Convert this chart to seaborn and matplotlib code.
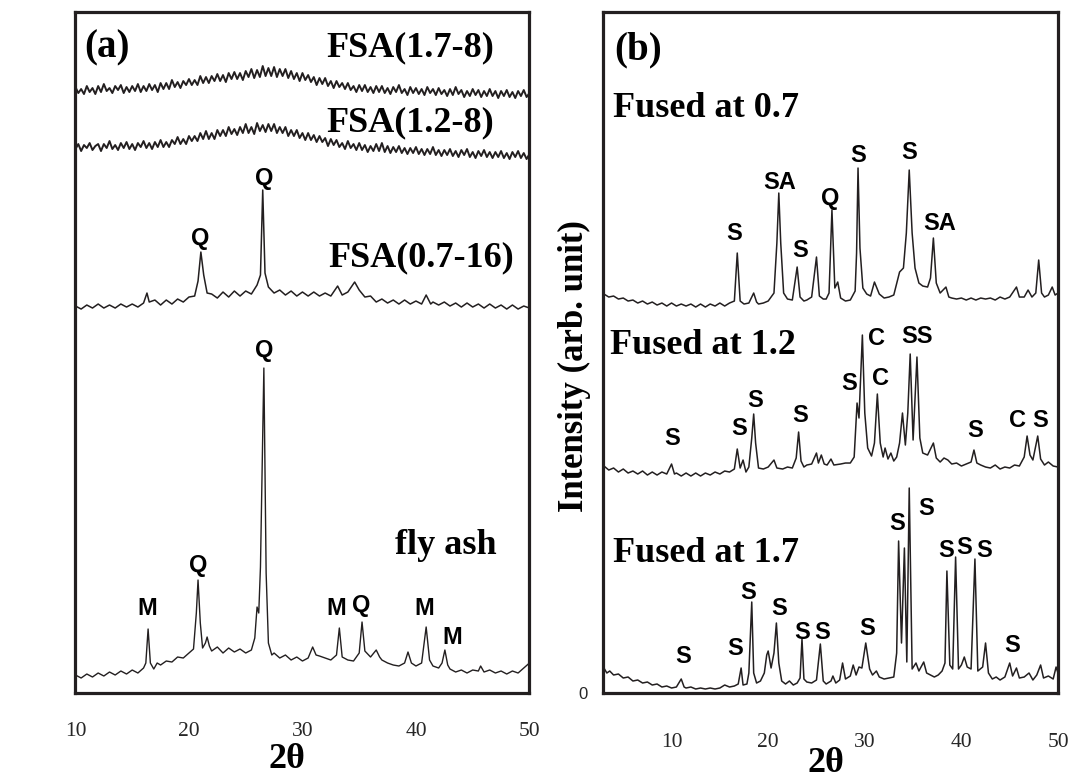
"""
XRD patterns of fly ash, the FSA products and the fused samples
"""

import pandas as pd
import seaborn as sns
import matplotlib
matplotlib.use('Agg')
import matplotlib.pyplot as plt

# ---- panel (a): (2theta, intensity), arbitrary units ----
fsa_17_8 = [(10.0, 606), (10.25, 600), (10.5, 604), (10.75, 599), (11.0, 607), (11.25, 601), (11.5, 605),
            (11.75, 599), (12.0, 607), (12.25, 601), (12.5, 609), (12.75, 602), (13.0, 605), (13.25, 600),
            (13.5, 607), (13.75, 603), (14.0, 608), (14.25, 600), (14.5, 606), (14.75, 601), (15.0, 607),
            (15.25, 602), (15.5, 609), (15.75, 601), (16.0, 607), (16.25, 602), (16.5, 609), (16.75, 603),
            (17.0, 608), (17.25, 601), (17.5, 610), (17.75, 604), (18.0, 610), (18.25, 604), (18.5, 613),
            (18.75, 606), (19.0, 611), (19.25, 605), (19.5, 612), (19.75, 608), (20.0, 614), (20.25, 608),
            (20.5, 613), (20.75, 608), (21.0, 617), (21.25, 610), (21.5, 616), (21.75, 610), (22.0, 617),
            (22.25, 612), (22.5, 619), (22.75, 612), (23.0, 618), (23.25, 611), (23.5, 620), (23.75, 614),
            (24.0, 621), (24.25, 614), (24.5, 620), (24.75, 613), (25.0, 622), (25.25, 616), (25.5, 624),
            (25.75, 615), (26.0, 623), (26.25, 616), (26.5, 627), (26.75, 617), (27.0, 625), (27.25, 617),
            (27.5, 626), (27.75, 616), (28.0, 624), (28.25, 617), (28.5, 624), (28.75, 615), (29.0, 622),
            (29.25, 614), (29.5, 620), (29.75, 612), (30.0, 620), (30.25, 613), (30.5, 618), (30.75, 611),
            (31.0, 616), (31.25, 608), (31.5, 615), (31.75, 609), (32.0, 615), (32.25, 607), (32.5, 612),
            (32.75, 605), (33.0, 612), (33.25, 606), (33.5, 610), (33.75, 604), (34.0, 610), (34.25, 603),
            (34.5, 607), (34.75, 601), (35.0, 608), (35.25, 602), (35.5, 608), (35.75, 601), (36.0, 606),
            (36.25, 600), (36.5, 607), (36.75, 601), (37.0, 607), (37.25, 600), (37.5, 605), (37.75, 599),
            (38.0, 606), (38.25, 601), (38.5, 608), (38.75, 600), (39.0, 604), (39.25, 598), (39.5, 606),
            (39.75, 600), (40.0, 605), (40.25, 599), (40.5, 604), (40.75, 598), (41.0, 606), (41.25, 600),
            (41.5, 604), (41.75, 598), (42.0, 605), (42.25, 599), (42.5, 603), (42.75, 597), (43.0, 604),
            (43.25, 598), (43.5, 606), (43.75, 599), (44.0, 603), (44.25, 596), (44.5, 602), (44.75, 597),
            (45.0, 604), (45.25, 598), (45.5, 603), (45.75, 596), (46.0, 602), (46.25, 597), (46.5, 604),
            (46.75, 597), (47.0, 602), (47.25, 595), (47.5, 602), (47.75, 597), (48.0, 603), (48.25, 596),
            (48.5, 601), (48.75, 595), (49.0, 602), (49.25, 597), (49.5, 603), (49.75, 596), (50.0, 600)]

fsa_12_8 = [(10.0, 544), (10.25, 549), (10.5, 542), (10.75, 548), (11.0, 545), (11.25, 550), (11.5, 543),
            (11.75, 547), (12.0, 549), (12.25, 542), (12.5, 549), (12.75, 545), (13.0, 552), (13.25, 544),
            (13.5, 548), (13.75, 543), (14.0, 550), (14.25, 545), (14.5, 551), (14.75, 544), (15.0, 549),
            (15.25, 543), (15.5, 550), (15.75, 546), (16.0, 552), (16.25, 545), (16.5, 550), (16.75, 544),
            (17.0, 551), (17.25, 546), (17.5, 553), (17.75, 546), (18.0, 551), (18.25, 546), (18.5, 553),
            (18.75, 549), (19.0, 556), (19.25, 549), (19.5, 554), (19.75, 549), (20.0, 557), (20.25, 552),
            (20.5, 557), (20.75, 552), (21.0, 560), (21.25, 554), (21.5, 562), (21.75, 554), (22.0, 560),
            (22.25, 554), (22.5, 563), (22.75, 557), (23.0, 563), (23.25, 557), (23.5, 566), (23.75, 559),
            (24.0, 564), (24.25, 558), (24.5, 566), (24.75, 560), (25.0, 569), (25.25, 560), (25.5, 566),
            (25.75, 559), (26.0, 570), (26.25, 562), (26.5, 568), (26.75, 561), (27.0, 569), (27.25, 562),
            (27.5, 569), (27.75, 560), (28.0, 566), (28.25, 560), (28.5, 566), (28.75, 557), (29.0, 563),
            (29.25, 557), (29.5, 563), (29.75, 555), (30.0, 560), (30.25, 553), (30.5, 560), (30.75, 553),
            (31.0, 558), (31.25, 551), (31.5, 557), (31.75, 551), (32.0, 555), (32.25, 547), (32.5, 554),
            (32.75, 548), (33.0, 553), (33.25, 546), (33.5, 550), (33.75, 544), (34.0, 552), (34.25, 545),
            (34.5, 549), (34.75, 543), (35.0, 550), (35.25, 543), (35.5, 548), (35.75, 541), (36.0, 547),
            (36.25, 542), (36.5, 549), (36.75, 542), (37.0, 550), (37.25, 541), (37.5, 547), (37.75, 540),
            (38.0, 546), (38.25, 541), (38.5, 547), (38.75, 540), (39.0, 545), (39.25, 539), (39.5, 545),
            (39.75, 540), (40.0, 546), (40.25, 539), (40.5, 544), (40.75, 538), (41.0, 544), (41.25, 539),
            (41.5, 546), (41.75, 538), (42.0, 543), (42.25, 537), (42.5, 543), (42.75, 538), (43.0, 544),
            (43.25, 537), (43.5, 542), (43.75, 536), (44.0, 543), (44.25, 538), (44.5, 544), (44.75, 536),
            (45.0, 541), (45.25, 535), (45.5, 542), (45.75, 537), (46.0, 543), (46.25, 536), (46.5, 541),
            (46.75, 535), (47.0, 541), (47.25, 536), (47.5, 542), (47.75, 535), (48.0, 540), (48.25, 534),
            (48.5, 541), (48.75, 536), (49.0, 542), (49.25, 535), (49.5, 540), (49.75, 534), (50.0, 539)]

fsa_07_16 = [(10, 387), (10.5, 384), (11, 388), (11.5, 385), (12, 389), (12.5, 385), (13, 388), (13.5, 385),
             (14, 389), (14.5, 386), (15, 389), (15.5, 386), (16, 390), (16.3, 400), (16.5, 391), (17, 393),
             (17.5, 388), (18, 393), (18.5, 389), (19, 394), (19.5, 391), (20, 396), (20.5, 397), (20.8, 412),
             (21.05, 441), (21.3, 418), (21.6, 400), (22, 399), (22.5, 395), (23, 401), (23.5, 396), (24, 402),
             (24.5, 397), (25, 402), (25.5, 399), (26, 408), (26.3, 418), (26.5, 503), (26.7, 420), (27, 406),
             (27.5, 400), (28, 403), (28.5, 398), (29, 402), (29.5, 397), (30, 401), (30.5, 397), (31, 401),
             (31.5, 397), (32, 400), (32.5, 397), (33.1, 407), (33.5, 398), (34, 401), (34.6, 411), (35, 403),
             (35.5, 396), (36, 397), (36.5, 391), (37, 394), (37.5, 390), (38, 393), (38.5, 389), (39, 393),
             (39.5, 389), (40, 392), (40.5, 389), (40.9, 398), (41.3, 389), (41.5, 391), (42, 388), (42.5, 391),
             (43, 387), (43.5, 390), (44, 386), (44.5, 390), (45, 386), (45.5, 389), (46, 385), (46.5, 389),
             (47, 385), (47.5, 388), (48, 384), (48.5, 388), (49, 384), (49.5, 387), (50, 385)]

fly_ash = [(10, 18), (10.5, 15), (11, 19), (11.5, 16), (12, 20), (12.5, 17), (13, 21), (13.5, 18), (14, 22),
           (14.5, 19), (15, 23), (15.5, 20), (16, 25), (16.2, 30), (16.4, 64), (16.6, 30), (16.9, 24), (17.2, 30),
           (17.5, 28), (18, 32), (18.5, 31), (19, 36), (19.5, 35), (20, 40), (20.4, 44), (20.65, 80), (20.8, 113),
           (21.0, 70), (21.2, 45), (21.45, 50), (21.6, 56), (21.8, 47), (22, 42), (22.5, 46), (23, 40), (23.5, 45),
           (24, 41), (24.5, 44), (25, 40), (25.5, 43), (25.8, 55), (26.0, 86), (26.15, 80), (26.3, 126),
           (26.6, 325), (26.8, 120), (27.0, 50), (27.3, 38), (27.5, 40), (28, 35), (28.5, 38), (29, 33),
           (29.5, 36), (30, 32), (30.5, 35), (30.9, 46), (31.2, 38), (31.5, 37), (32, 35), (32.5, 33), (33.0, 38),
           (33.25, 65), (33.5, 36), (34, 33), (34.5, 32), (35.0, 40), (35.25, 71), (35.5, 42), (36, 36),
           (36.5, 43), (36.8, 36), (37, 33), (37.5, 30), (38, 28), (38.5, 27), (39, 30), (39.3, 41), (39.6, 30),
           (40, 27), (40.5, 30), (40.9, 66), (41.2, 33), (41.5, 27), (42, 25), (42.3, 30), (42.55, 43), (42.8, 28),
           (43, 24), (43.5, 21), (44, 23), (44.5, 20), (45, 23), (45.5, 22), (45.7, 27), (46, 21), (46.5, 23),
           (47, 20), (47.5, 22), (48, 19), (48.5, 22), (49, 20), (49.5, 25), (50, 30)]

# ---- panel (b) ----
fused_07 = [(3, 399), (3.5, 396), (4, 397), (4.5, 394), (5, 395), (5.5, 392), (6, 393), (6.5, 390), (7, 392),
            (7.5, 389), (8, 391), (8.5, 388), (9, 390), (9.5, 387), (10, 390), (10.5, 387), (11, 389), (11.5, 387),
            (12, 389), (12.5, 386), (13, 389), (13.5, 386), (14, 389), (14.5, 387), (15, 390), (15.5, 387),
            (16, 390), (16.5, 392), (16.8, 440), (17.1, 392), (17.5, 389), (18, 390), (18.5, 400), (18.8, 391),
            (19, 389), (19.5, 390), (20, 392), (20.6, 400), (20.9, 450), (21.1, 500), (21.3, 450), (21.6, 400),
            (22, 394), (22.5, 393), (23.0, 426), (23.3, 396), (23.7, 392), (24, 393), (24.5, 396), (25.0, 436),
            (25.3, 397), (25.7, 394), (26, 394), (26.3, 400), (26.6, 483), (26.9, 405), (27.2, 411), (27.5, 395),
            (28, 392), (28.5, 393), (29.0, 402), (29.15, 440), (29.3, 525), (29.5, 445), (29.8, 405), (30.2, 399),
            (30.6, 397), (31.0, 411), (31.5, 399), (32, 395), (32.5, 396), (33, 398), (33.6, 421), (34.0, 425),
            (34.3, 460), (34.6, 523), (34.9, 460), (35.2, 425), (35.6, 410), (36, 407), (36.5, 406), (36.8, 415),
            (37.1, 455), (37.4, 410), (37.8, 400), (38.4, 406), (38.7, 396), (39, 395), (39.5, 394), (40, 395),
            (40.5, 393), (41, 395), (41.5, 393), (42, 395), (42.5, 394), (43, 395), (43.5, 393), (44, 396),
            (44.5, 394), (45, 396), (45.7, 406), (46, 396), (46.5, 396), (46.9, 403), (47.3, 396), (47.7, 400),
            (48.0, 433), (48.3, 400), (48.6, 396), (49, 398), (49.4, 406), (49.7, 398), (50, 400)]

fused_12 = [(3, 227), (3.5, 223), (4, 225), (4.5, 221), (5, 224), (5.5, 220), (6, 222), (6.5, 219), (7, 222),
            (7.5, 218), (8, 221), (8.5, 218), (9, 221), (9.5, 219), (10.0, 229), (10.3, 219), (10.5, 220),
            (11, 217), (11.5, 220), (12, 217), (12.5, 220), (13, 217), (13.5, 220), (14, 218), (14.5, 221),
            (15, 219), (15.5, 222), (16, 221), (16.5, 224), (16.8, 244), (17.1, 225), (17.4, 233), (17.7, 221),
            (18.0, 226), (18.3, 255), (18.5, 279), (18.7, 250), (19.0, 225), (19.5, 224), (20, 226), (20.6, 233),
            (20.9, 225), (21.5, 224), (22, 226), (22.5, 225), (22.9, 235), (23.15, 261), (23.4, 232), (23.7, 226),
            (24, 228), (24.5, 229), (25.0, 240), (25.2, 230), (25.5, 238), (25.8, 229), (26.1, 228), (26.5, 234),
            (26.8, 228), (27.5, 229), (28, 230), (28.5, 230), (28.9, 236), (29.2, 290), (29.4, 275), (29.75, 358),
            (30.0, 280), (30.3, 245), (30.7, 237), (31.0, 250), (31.3, 299), (31.6, 250), (31.9, 236), (32.1, 245),
            (32.4, 234), (32.7, 240), (33.0, 232), (33.3, 236), (33.6, 250), (33.9, 280), (34.2, 248), (34.45, 280),
            (34.7, 339), (35.0, 253), (35.4, 336), (35.7, 255), (36.0, 240), (36.5, 238), (37.1, 250), (37.4, 235),
            (37.8, 231), (38.2, 235), (38.6, 233), (39, 229), (39.5, 230), (40, 227), (40.5, 229), (41, 231),
            (41.3, 243), (41.6, 230), (42, 228), (42.5, 226), (43, 225), (43.5, 228), (44, 224), (44.5, 226),
            (45, 225), (45.5, 228), (46, 227), (46.5, 236), (46.8, 257), (47.1, 238), (47.4, 233), (47.9, 257),
            (48.2, 234), (48.6, 228), (49, 231), (49.5, 227), (50, 226)]

fused_17 = [(3, 25), (3.3, 20), (3.6, 22), (4, 18), (4.5, 19), (5, 15), (5.5, 16), (6, 12), (6.5, 13), (7, 10),
            (7.5, 11), (8, 8), (8.5, 9), (9, 6), (9.5, 7), (10, 5), (10.5, 6), (11.0, 14), (11.3, 6), (11.5, 5),
            (12, 6), (12.5, 4), (13, 5), (13.5, 4), (14, 5), (14.5, 4), (15, 5), (15.5, 8), (16, 6), (16.5, 7),
            (16.9, 9), (17.2, 25), (17.4, 8), (17.8, 9), (18.0, 20), (18.3, 91), (18.5, 20), (18.8, 10), (19.2, 12),
            (19.6, 20), (19.85, 38), (20.0, 42), (20.3, 25), (20.6, 40), (20.85, 70), (21.1, 30), (21.4, 12),
            (21.8, 9), (22.2, 12), (22.6, 8), (23.0, 10), (23.3, 15), (23.5, 54), (23.7, 14), (24.0, 11),
            (24.5, 10), (25.0, 13), (25.4, 49), (25.7, 12), (26.0, 9), (26.5, 12), (26.7, 17), (27.0, 10),
            (27.4, 13), (27.7, 30), (28.0, 14), (28.5, 17), (28.8, 28), (29.1, 18), (29.4, 26), (29.7, 25),
            (30.1, 50), (30.5, 24), (30.8, 18), (31.2, 22), (31.5, 16), (32.0, 14), (32.5, 15), (33.0, 16),
            (33.3, 40), (33.5, 152), (33.8, 50), (34.1, 145), (34.35, 31), (34.6, 205), (34.9, 24), (35.3, 30),
            (35.6, 22), (36.1, 31), (36.4, 20), (36.8, 18), (37.2, 16), (37.6, 18), (38.0, 22), (38.3, 30),
            (38.5, 122), (38.8, 28), (39.1, 24), (39.4, 136), (39.7, 24), (40.0, 28), (40.3, 36), (40.6, 26),
            (41.0, 24), (41.4, 134), (41.7, 22), (42.2, 26), (42.5, 50), (42.8, 20), (43.2, 14), (43.6, 16),
            (44.0, 13), (44.5, 16), (45.0, 30), (45.3, 17), (45.7, 25), (46.0, 15), (46.5, 16), (47.0, 20),
            (47.4, 13), (47.8, 18), (48.2, 28), (48.5, 15), (49.0, 17), (49.5, 14), (49.8, 26), (50, 20)]

# phase labels: text, 2theta, intensity
a_phases = [('Q', 21.0, 455), ('Q', 26.6, 515), ('Q', 26.6, 343), ('Q', 20.8, 128), ('M', 16.3, 85),
            ('M', 33.0, 85), ('Q', 35.2, 88), ('M', 40.7, 85), ('M', 43.2, 56)]
b_phases = [('S', 16.5, 460), ('SA', 21.2, 511), ('S', 23.3, 443), ('Q', 26.4, 495), ('S', 29.3, 538),
            ('S', 34.6, 541), ('SA', 37.7, 470),
            ('S', 10.1, 255), ('S', 17.0, 265), ('S', 18.6, 293), ('S', 23.3, 278), ('S', 28.4, 310),
            ('C', 31.2, 355), ('C', 31.6, 315), ('SS', 35.4, 357), ('S', 41.4, 263), ('C', 45.8, 273),
            ('S', 48.1, 273),
            ('S', 11.2, 37), ('S', 16.6, 45), ('S', 17.9, 101), ('S', 21.1, 85), ('S', 23.5, 61), ('S', 25.6, 61),
            ('S', 30.2, 65), ('S', 33.3, 170), ('S', 36.3, 185), ('S', 38.4, 143), ('S', 40.3, 146),
            ('S', 42.4, 143), ('S', 45.2, 48)]


def to_df(points, name):
    df = pd.DataFrame(points, columns=['two_theta', 'intensity'])
    df['sample'] = name
    return df


sns.set_style('white')
plt.rcParams['font.family'] = ['Liberation Serif', 'DejaVu Serif']

LINE = '#231f20'
SERIF = ['Liberation Serif', 'DejaVu Serif']
SANS = ['Liberation Sans', 'DejaVu Sans']

fig = plt.figure(figsize=(10.75, 7.82), dpi=100)
ax_a = fig.add_axes([0.0702, 0.1138, 0.4223, 0.8708])
ax_b = fig.add_axes([0.5609, 0.1138, 0.4233, 0.8708])

panel_a = [(fsa_17_8, 'FSA(1.7-8)', 1.4), (fsa_12_8, 'FSA(1.2-8)', 1.4),
           (fsa_07_16, 'FSA(0.7-16)', 1.1), (fly_ash, 'fly ash', 1.0)]
for pts, name, lw in panel_a:
    sns.lineplot(data=to_df(pts, name), x='two_theta', y='intensity', ax=ax_a,
                 color=LINE, lw=lw, estimator=None, sort=False)

panel_b = [(fused_07, 'Fused at 0.7'), (fused_12, 'Fused at 1.2'), (fused_17, 'Fused at 1.7')]
for pts, name in panel_b:
    sns.lineplot(data=to_df(pts, name), x='two_theta', y='intensity', ax=ax_b,
                 color=LINE, lw=1.1, estimator=None, sort=False)

for ax in (ax_a, ax_b):
    ax.set_ylim(0, 681)
    ax.set_xlabel('')
    ax.set_ylabel('')
    for sp in ax.spines.values():
        sp.set_visible(True)
        sp.set_linewidth(2.3)
        sp.set_color(LINE)
    ax.set_xticks([10, 20, 30, 40, 50])
    for lab in ax.get_xticklabels():
        lab.set_fontfamily(SERIF)

ax_a.set_xlim(10, 50)
ax_a.set_yticks([])
ax_a.tick_params(axis='x', direction='out', length=4, width=1.2, labelsize=15.5, pad=17, color=LINE)

ax_b.set_xlim(2.9, 50)
ax_b.set_yticks([0])
ax_b.set_yticklabels(['0'], fontfamily=SANS, fontsize=12)
ax_b.tick_params(axis='x', direction='out', length=9, width=1.2, labelsize=15.5, pad=20, color=LINE)
ax_b.tick_params(axis='y', direction='out', length=7, width=1.2, pad=4, color=LINE)

# sample names and panel tags
big = dict(fontfamily=SERIF, fontweight='bold', fontsize=26, color='black')
ax_a.text(12.8, 645, '(a)', ha='center', va='center', **dict(big, fontsize=28))
ax_a.text(39.5, 645, 'FSA(1.7-8)', ha='center', va='center', **big)
ax_a.text(39.5, 570, 'FSA(1.2-8)', ha='center', va='center', **big)
ax_a.text(40.5, 435, 'FSA(0.7-16)', ha='center', va='center', **big)
ax_a.text(42.6, 148, 'fly ash', ha='center', va='center', **big)

ax_b.text(6.5, 643, '(b)', ha='center', va='center', **dict(big, fontsize=28))
ax_b.text(3.9, 585, 'Fused at 0.7', ha='left', va='center', **big)
ax_b.text(3.6, 348, 'Fused at 1.2', ha='left', va='center', **big)
ax_b.text(3.9, 140, 'Fused at 1.7', ha='left', va='center', **big)

for ax, phases in ((ax_a, a_phases), (ax_b, b_phases)):
    for txt, tt, inten in phases:
        ax.text(tt, inten, txt, ha='center', va='center', fontfamily=SANS,
                fontweight='bold', fontsize=17, color='black')

ax_a.text(0.466, -0.098, '2θ', transform=ax_a.transAxes, ha='center', va='center', **big)
ax_b.text(0.49, -0.104, '2θ', transform=ax_b.transAxes, ha='center', va='center', **big)
ax_b.text(-0.062, 0.48, 'Intensity (arb. unit)', transform=ax_b.transAxes, rotation=90,
          ha='center', va='center', **dict(big, fontsize=25))

plt.savefig('out.png', dpi=100)
